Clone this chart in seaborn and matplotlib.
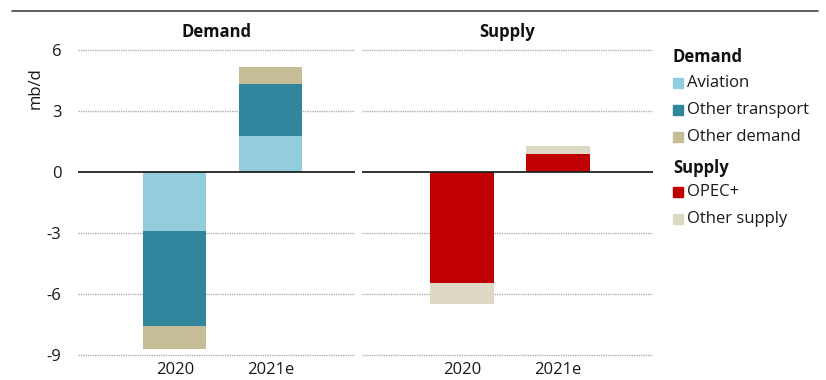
import matplotlib
matplotlib.use("Agg")
import matplotlib.pyplot as plt
import seaborn as sns
import numpy as np
import pandas as pd
from matplotlib.patches import Rectangle
from matplotlib.lines import Line2D

# ---- data ----
years = ["2020", "2021e"]
aviation = [-2.9, 1.75]
other_transport = [-4.7, 2.6]
other_demand = [-1.1, 0.8]
opec = [-5.45, 0.9]
other_supply = [-1.05, 0.4]
yticks = [-9, -6, -3, 0, 3, 6]

c_avi = "#93CDDD"
c_otr = "#31859C"
c_odm = "#C4BD97"
c_opec = "#C00000"
c_osup = "#DDD9C4"

sns.set_theme(style="white")
plt.rcParams["font.family"] = ["Open Sans", "DejaVu Sans"]
plt.rcParams["axes.unicode_minus"] = False
FS = 12

fig = plt.figure(figsize=(8.26, 3.80), dpi=100)
W, H = 826, 380

def px_axes(x0, x1, y_top, y_bot):
    return fig.add_axes([x0 / W, 1 - y_bot / H, (x1 - x0) / W, (y_bot - y_top) / H])

ax1 = px_axes(78, 355, 44, 360.8)
ax2 = px_axes(362, 653, 44, 360.8)

def stacked(ax, series, colors):
    # draw cumulative sums from largest to smallest so the stack shows
    cums = np.cumsum(np.array(series), axis=0)
    for cum, col in list(zip(cums, colors))[::-1]:
        df = pd.DataFrame({"year": years, "value": cum})
        sns.barplot(data=df, x="year", y="value", color=col, width=0.66,
                    ax=ax, saturation=1, zorder=3, errorbar=None,
                    linewidth=0, edgecolor=col)

stacked(ax1, [aviation, other_transport, other_demand], [c_avi, c_otr, c_odm])
stacked(ax2, [opec, other_supply], [c_opec, c_osup])

for ax, xl, title in [(ax1, (-1.01, 1.88), "Demand"), (ax2, (-1.04, 1.99), "Supply")]:
    ax.set_xlim(*xl)
    ax.set_ylim(-9.3, 6.3)
    ax.set_yticks(yticks)
    for v in yticks:
        if v != 0:
            ax.axhline(v, color="#b0b0b0", lw=1.0, ls=(0, (1, 0.7)), zorder=1)
    ax.axhline(0, color="#222222", lw=1.3, zorder=4)
    for s in ax.spines.values():
        s.set_visible(False)
    ax.set_xlabel("")
    ax.set_ylabel("")
    ax.set_title(title, fontsize=FS, fontweight="bold", pad=5, color="#111111")
    ax.tick_params(axis="x", length=0, pad=1, labelsize=FS, labelcolor="#1a1a1a")
    ax.tick_params(axis="y", length=0, pad=12, labelsize=FS, labelcolor="#1a1a1a")
    ax.set_facecolor("none")

ax2.set_yticklabels([])
ax1.set_ylabel("mb/d", fontsize=FS, color="#1a1a1a")
ax1.yaxis.set_label_coords(-0.125, 0.86)

# top rule
fig.add_artist(Line2D([12 / W, 818 / W], [1 - 11 / H, 1 - 11 / H], color="#444444", lw=1.2))

# legend
leg_rows = [
    ("Demand", None, 57),
    ("Aviation", c_avi, 83),
    ("Other transport", c_otr, 110),
    ("Other demand", c_odm, 137),
    ("Supply", None, 168),
    ("OPEC+", c_opec, 192),
    ("Other supply", c_osup, 219),
]
for label, col, y in leg_rows:
    if col is None:
        fig.text(673 / W, 1 - y / H, label, fontsize=FS, fontweight="bold",
                 va="center", ha="left", color="#111111")
    else:
        fig.add_artist(Rectangle((673 / W, 1 - (y + 5) / H), 10 / W, 10 / H,
                                 transform=fig.transFigure, color=col))
        fig.text(687 / W, 1 - y / H, label, fontsize=FS, va="center", ha="left",
                 color="#1a1a1a")

fig.savefig("out.png", dpi=100)
